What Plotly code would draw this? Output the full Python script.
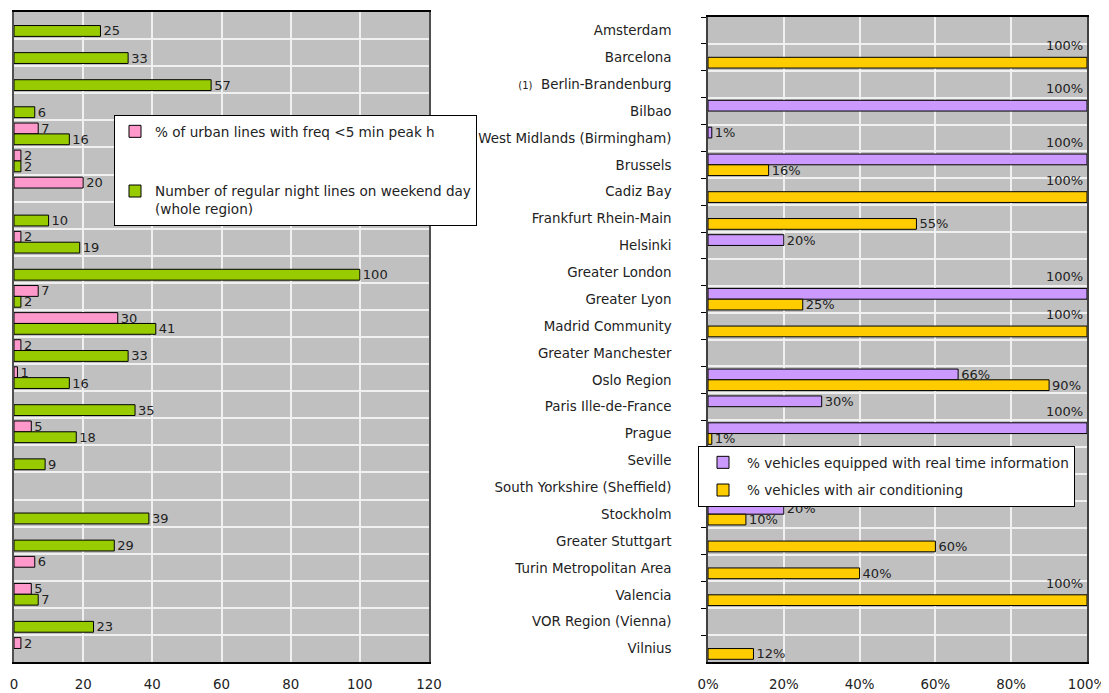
import plotly.graph_objects as go

cities = ["Amsterdam", "Barcelona", "Berlin-Brandenburg", "Bilbao",
          "West Midlands (Birmingham)", "Brussels", "Cadiz Bay",
          "Frankfurt Rhein-Main", "Helsinki", "Greater London", "Greater Lyon",
          "Madrid Community", "Greater Manchester", "Oslo Region",
          "Paris Ille-de-France", "Prague", "Seville",
          "South Yorkshire (Sheffield)", "Stockholm", "Greater Stuttgart",
          "Turin Metropolitan Area", "Valencia", "VOR Region (Vienna)", "Vilnius"]

freq_lines = [None, None, None, None, 7, 2, 20, None, 2, None, 7, 30, 2, 1,
              None, 5, None, None, None, None, 6, 5, None, 2]
night_lines = [25, 33, 57, 6, 16, 2, None, 10, 19, 100, 2, 41, 33, 16, 35, 18,
               9, None, 39, 29, None, 7, 23, None]
rti = [None, None, None, 100, 1, 100, None, None, 20, None, 100, None, None,
       66, 30, 100, None, None, 20, None, None, None, None, None]
aircon = [None, 100, None, None, None, 16, 100, 55, None, None, 25, 100, None,
          90, None, 1, None, None, 10, 60, 40, 100, None, 12]

left_ticks = [0, 20, 40, 60, 80, 100, 120]
right_ticks = [0, 20, 40, 60, 80, 100]
right_ticktext = [f"{t}%" for t in right_ticks]

FONT = "DejaVu Sans"
OFF = 8                      # page body margin
W, H = 1109 - OFF, 693 - OFF
PINK, GREEN, PURPLE, ORANGE = "#FF99CC", "#99CC00", "#CC99FF", "#FFCC00"
GRID_BG = "#C0C0C0"
GRID = "#F0F0F0"


def px_x(p):
    return (p - OFF) / W


def px_y(p):
    return 1 - (p - OFF) / H


fig = go.Figure()


def lab(vals, suffix="", skip=None):
    out = []
    for v in vals:
        if v is None or (skip is not None and v >= skip):
            out.append("")
        else:
            out.append(f"{v}{suffix}")
    return out


common = dict(orientation="h", marker_line_color="black", marker_line_width=1,
              textposition="outside", cliponaxis=False, constraintext="none",
              textfont=dict(family=FONT, size=13, color="#222"))

fig.add_trace(go.Bar(x=freq_lines, y=cities, name="% of urban lines with freq &lt;5 min peak h",
                     marker_color=PINK, text=lab(freq_lines), xaxis="x", yaxis="y",
                     legend="legend", legendgroup="a", **common))
fig.add_trace(go.Bar(x=night_lines, y=cities,
                     name="Number of regular night lines on weekend day<br>(whole region)",
                     marker_color=GREEN, text=lab(night_lines), xaxis="x", yaxis="y",
                     legend="legend", legendgroup="b", **common))
fig.add_trace(go.Bar(x=rti, y=cities, name="% vehicles equipped with real time information",
                     marker_color=PURPLE, text=lab(rti, "%", 100), xaxis="x2", yaxis="y2",
                     legend="legend2", legendgroup="c", **common))
fig.add_trace(go.Bar(x=aircon, y=cities, name="% vehicles with air conditioning",
                     marker_color=ORANGE, text=lab(aircon, "%", 100), xaxis="x2", yaxis="y2",
                     legend="legend2", legendgroup="d", **common))

# panel geometry (screen pixels)
L_X0, L_X1, L_Y0, L_Y1 = 14, 429, 12, 662
R_X0, R_X1, R_Y0, R_Y1 = 708, 1087, 17, 662

row_px = (R_Y1 - R_Y0) / len(cities)
bar_off = row_px * 0.2
annots = []
for vals, sign in ((rti, 1), (aircon, -1)):
    for c, v in zip(cities, vals):
        if v is not None and v >= right_ticks[-1]:
            annots.append(dict(x=v, y=c, xref="x2", yref="y2", text=f"{v}%",
                               showarrow=False, xanchor="right", yanchor="middle",
                               xshift=-2, yshift=sign * bar_off + 17,
                               font=dict(family=FONT, size=13, color="#222")))

axis_font = dict(family=FONT, size=13.4, color="#222")
leg_font = dict(family=FONT, size=13.6, color="#222")

fig.update_layout(
    width=W, height=H, margin=dict(l=0, r=0, t=0, b=0, autoexpand=False),
    paper_bgcolor="white", plot_bgcolor=GRID_BG,
    barmode="group", bargap=0.2, bargroupgap=0,
    font=dict(family=FONT, size=13, color="#222"),
    xaxis=dict(domain=[px_x(L_X0), px_x(L_X1)], range=[0, 120], tickvals=left_ticks,
               showgrid=True, gridcolor=GRID, gridwidth=2, zeroline=False,
               showline=True, linecolor="black", linewidth=1.5, mirror=True,
               ticks="", ticklabelstandoff=9, tickfont=axis_font, anchor="y",
               automargin=False),
    yaxis=dict(domain=[px_y(L_Y1), px_y(L_Y0)], type="category",
               categoryorder="array", categoryarray=cities, autorange="reversed",
               tickson="boundaries", showgrid=True, gridcolor=GRID, gridwidth=2,
               showticklabels=False, ticks="", showline=True, linecolor="#505050",
               linewidth=1.5, mirror=True, anchor="x", automargin=False),
    xaxis2=dict(domain=[px_x(R_X0), px_x(R_X1)], range=[0, 100], tickvals=right_ticks,
                ticktext=right_ticktext, showgrid=True, gridcolor=GRID, gridwidth=2,
                zeroline=False, showline=True, linecolor="black", linewidth=1.5,
                mirror=True, ticks="", ticklabelstandoff=9, tickfont=axis_font,
                anchor="y2", automargin=False),
    yaxis2=dict(domain=[px_y(R_Y1), px_y(R_Y0)], type="category",
                categoryorder="array", categoryarray=cities, autorange="reversed",
                tickson="boundaries", showgrid=True, gridcolor=GRID, gridwidth=2,
                ticks="outside", ticklen=5, tickcolor="black", tickfont=axis_font,
                ticklabelstandoff=32,
                labelalias={"Berlin-Brandenburg":
                            "<span style='font-size:10px'>(1)</span>  Berlin-Brandenburg"},
                showline=True, linecolor="#404040", linewidth=1.5, mirror=True,
                anchor="x2", automargin=False),
    legend=dict(x=px_x(114), y=px_y(115), xanchor="left", yanchor="top",
                bgcolor="white", bordercolor="black", borderwidth=1,
                font=leg_font, traceorder="grouped",
                tracegroupgap=39, valign="top"),
    legend2=dict(x=px_x(698), y=px_y(446), xanchor="left", yanchor="top",
                 bgcolor="white", bordercolor="black", borderwidth=1,
                 font=leg_font, traceorder="grouped", itemwidth=38,
                 tracegroupgap=7, valign="top"),
    annotations=annots,
)

fig.write_html("out.html")
